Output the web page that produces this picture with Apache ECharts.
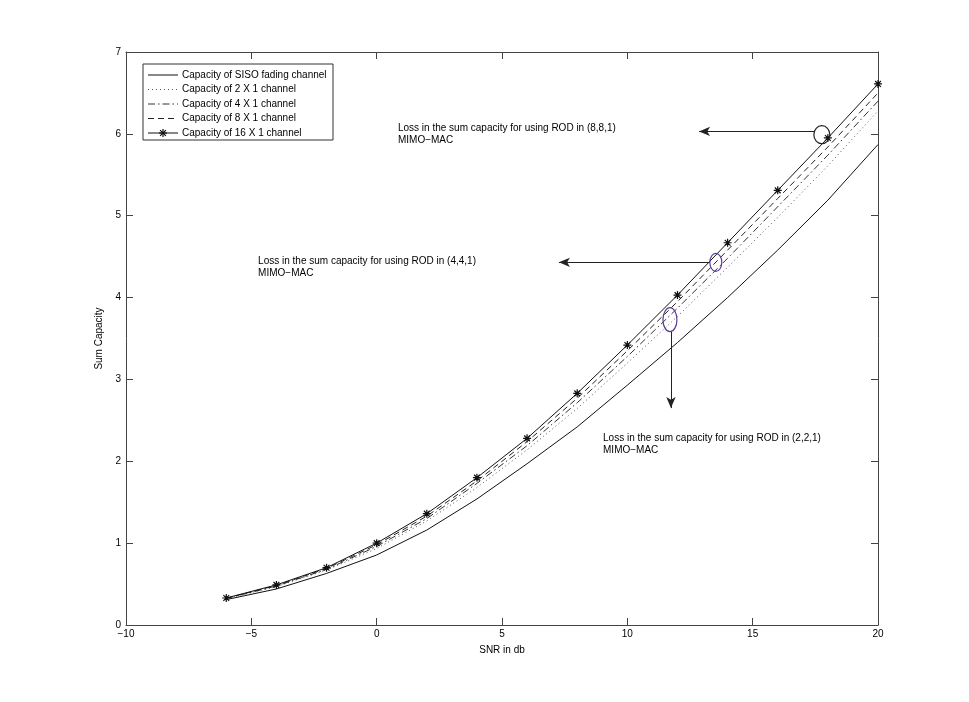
<!DOCTYPE html>
<html><head><meta charset="utf-8">
<script src="https://cdn.jsdelivr.net/npm/echarts@6/dist/echarts.min.js"></script>
<style>html,body{margin:0;padding:0;background:#fff}#c{width:969px;height:702px}</style>
</head><body><div id="c"></div>
<script>
const snr = [-6,-4,-2,0,2,4,6,8,10,12,14,16,18,20];
const siso = [0.31,0.44,0.63,0.855,1.16,1.54,1.97,2.42,2.93,3.45,4.00,4.58,5.19,5.87];
const ch2x1 = [0.32,0.47,0.67,0.935,1.27,1.68,2.14,2.645,3.20,3.77,4.37,4.98,5.61,6.28];
const ch4x1 = [0.324,0.476,0.68,0.96,1.30,1.73,2.19,2.715,3.28,3.87,4.48,5.11,5.74,6.40];
const ch8x1 = [0.327,0.483,0.69,0.98,1.33,1.76,2.24,2.77,3.35,3.95,4.58,5.21,5.84,6.50];
const ch16x1 = [0.33,0.49,0.70,1.00,1.36,1.80,2.28,2.83,3.42,4.03,4.67,5.31,5.95,6.61];
const seriesNames = ['Capacity of SISO fading channel','Capacity of 2 X 1 channel','Capacity of 4 X 1 channel','Capacity of 8 X 1 channel','Capacity of 16 X 1 channel'];
const xTicks = {min:-10, max:20, interval:5};
const yTicks = {min:0, max:7, interval:1};
// annotations (data coordinates)
const noteTexts = [
  ['Loss in the sum capacity for using ROD in (8,8,1)','MIMO\u2212MAC'],
  ['Loss in the sum capacity for using ROD in (4,4,1)','MIMO\u2212MAC'],
  ['Loss in the sum capacity for using ROD in (2,2,1)','MIMO\u2212MAC']
];
const noteTextPos = [[0.85,6.14],[-4.73,4.52],[9.03,2.36]];
const arrowFrom = [[17.48,6.03],[13.29,4.43],[11.74,3.58]];
const arrowTo = [[12.86,6.03],[7.27,4.43],[11.74,2.65]];
const ellipseCenters = [[17.76,5.99],[13.53,4.43],[11.70,3.73]];

const FONT = '"Liberation Sans", Arial, Helvetica, sans-serif';
const zip = (a,b)=>a.map((v,i)=>[v,b[i]]);
const star = 'path://M0,-5L0,5M-5,0L5,0M-3.6,-3.6L3.6,3.6M-3.6,3.6L3.6,-3.6';
const fmt = v => String(v).replace('-', '\u2212');
const styles = [
  {color:'#111', dash:null},
  {color:'#555', dash:[1,3]},
  {color:'#333', dash:[7,3,1.5,3]},
  {color:'#222', dash:[6,4]},
  {color:'#111', dash:null}
];
const axisCommon = {
  axisLine:{show:true, onZero:false, lineStyle:{color:'#444', width:1}},
  axisTick:{show:true, inside:true, length:7, lineStyle:{color:'#444'}},
  splitLine:{show:false}
};
const chart = echarts.init(document.getElementById('c'));
const lineBase = {type:'line', showSymbol:false, symbol:'none', animation:false, z:3};
const ellipseData = [[0,8,9,'#222'],[1,6,9,'#5b3b9c'],[2,7,12,'#5b3b9c']];
const allData = [siso, ch2x1, ch4x1, ch8x1, ch16x1];
const lineSeries = allData.map((d,i)=>Object.assign({}, lineBase, {
  name:seriesNames[i], data:zip(snr,d),
  lineStyle:{color:styles[i].color, width:1, type: styles[i].dash || 'solid'},
  itemStyle:{color:styles[i].color}
}));
Object.assign(lineSeries[4], {showSymbol:true, symbol:star, symbolSize:8,
  itemStyle:{color:'#111', borderColor:'#111', borderWidth:1.2}});
chart.setOption({
  animation:false,
  backgroundColor:'#fff',
  textStyle:{fontFamily:FONT},
  grid:{left:126, right:91, top:52, bottom:77, containLabel:false},
  xAxis:[
    Object.assign({type:'value', position:'bottom', min:xTicks.min, max:xTicks.max, interval:xTicks.interval,
      name:'SNR in db', nameLocation:'middle', nameGap:20, nameTextStyle:{fontSize:10, color:'#000', fontFamily:FONT},
      axisLabel:{fontSize:10, color:'#000', margin:4, formatter:fmt, fontFamily:FONT}}, axisCommon),
    Object.assign({type:'value', position:'top', min:xTicks.min, max:xTicks.max, interval:xTicks.interval,
      axisLabel:{show:false}}, axisCommon)
  ],
  yAxis:[
    Object.assign({type:'value', position:'left', min:yTicks.min, max:yTicks.max, interval:yTicks.interval,
      name:'Sum Capacity', nameLocation:'middle', nameGap:19, nameTextStyle:{fontSize:10, color:'#000', fontFamily:FONT},
      axisLabel:{fontSize:10, color:'#000', margin:5, fontFamily:FONT}}, axisCommon),
    Object.assign({type:'value', position:'right', min:yTicks.min, max:yTicks.max, interval:yTicks.interval,
      axisLabel:{show:false}}, axisCommon)
  ],
  series: lineSeries.concat([
    {type:'line', data:[], silent:true, animation:false,
      markLine:{silent:true, symbol:['none','arrow'], symbolSize:[7,11], animation:false,
        lineStyle:{color:'#222', width:1, type:'solid'}, label:{show:false},
        data: arrowFrom.map((f,i)=>[{coord:f},{coord:arrowTo[i]}])}},
    {type:'custom', silent:true, animation:false, z:5,
      data: ellipseData.map(e=>[ellipseCenters[e[0]][0], ellipseCenters[e[0]][1], e[1], e[2], e[3]]),
      renderItem:function(params, api){
        const p = api.coord([api.value(0), api.value(1)]);
        const d = ellipseData[params.dataIndex];
        return {type:'ellipse', shape:{cx:p[0], cy:p[1], rx:d[1], ry:d[2]},
          style:{fill:'none', stroke:d[3], lineWidth:1.2}};
      }}
  ])
});
const g = noteTexts.map((lines,i)=>{
  const p = chart.convertToPixel({gridIndex:0}, noteTextPos[i]);
  return {type:'text', x:p[0], y:p[1], z:10,
    style:{text:lines.join('\n'), font:'10px '+FONT, fill:'#000', lineHeight:12}};
});
// legend box (drawn manually to match MATLAB look)
const lg = {x:143, y:64, w:190, h:76, row0:11, rowGap:14.5};
const legendChildren = [{type:'rect', shape:{x:lg.x, y:lg.y, width:lg.w, height:lg.h},
  style:{fill:'#fff', stroke:'#333', lineWidth:1}}];
seriesNames.forEach((n,i)=>{
  const yy = lg.y + lg.row0 + i*lg.rowGap;
  legendChildren.push({type:'line', shape:{x1:lg.x+5, y1:yy, x2:lg.x+35, y2:yy},
    style:{stroke:styles[i].color, lineWidth:1, lineDash:styles[i].dash}});
  if (i===4) {
    const cx = lg.x+20, r = 4, q = 2.9;
    [[0,-r,0,r],[-r,0,r,0],[-q,-q,q,q],[-q,q,q,-q]].forEach(s=>{
      legendChildren.push({type:'line', shape:{x1:cx+s[0], y1:yy+s[1], x2:cx+s[2], y2:yy+s[3]},
        style:{stroke:'#111', lineWidth:1.2}});
    });
  }
  legendChildren.push({type:'text', x:lg.x+39, y:yy,
    style:{text:n, font:'10px '+FONT, fill:'#000', verticalAlign:'middle', textVerticalAlign:'middle'}});
});
legendChildren.forEach(c=>{c.z = 20;});
chart.setOption({graphic:g.concat(legendChildren)});
</script></body></html>
